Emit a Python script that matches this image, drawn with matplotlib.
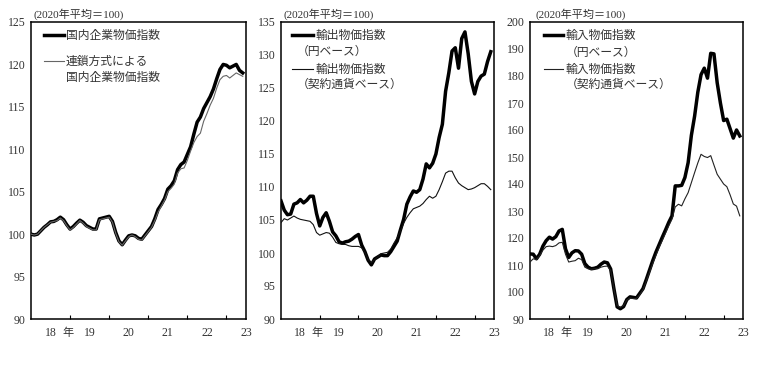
import numpy as np
import matplotlib
matplotlib.use('Agg')
import matplotlib.pyplot as plt

plt.rcParams['font.family'] = ['Liberation Serif', 'Noto Sans CJK JP']

# monthly data, Jan 2018 - Jun 2023 (2020 average = 100)
year_labels = ['18', '19', '20', '21', '22', '23']

domestic = [100.0, 99.9, 100.0, 100.4, 100.8, 101.1, 101.45, 101.5, 101.7, 102.0,
            101.7, 101.1, 100.6, 100.9, 101.3, 101.65, 101.4, 101.0, 100.8, 100.6,
            100.6, 101.8, 101.9, 102.0, 102.1, 101.5, 100.2, 99.2, 98.75, 99.3,
            99.8, 99.9, 99.8, 99.5, 99.4, 99.9, 100.4, 100.9, 101.8, 102.9,
            103.5, 104.2, 105.3, 105.7, 106.3, 107.6, 108.2, 108.5, 109.4, 110.3,
            111.8, 113.2, 113.8, 114.8, 115.5, 116.2, 117.1, 118.3, 119.4, 120.0,
            119.9, 119.6, 119.8, 120.0, 119.3, 119.0]
domestic_chain = [100.0, 99.9, 100.0, 100.4, 100.8, 101.1, 101.4, 101.5, 101.6, 101.9,
                  101.6, 101.0, 100.5, 100.8, 101.2, 101.6, 101.3, 100.9, 100.7, 100.5,
                  100.5, 101.7, 101.8, 101.9, 102.0, 101.4, 100.1, 99.1, 98.7, 99.2,
                  99.7, 99.9, 99.7, 99.4, 99.3, 99.8, 100.3, 100.8, 101.6, 102.6,
                  103.3, 104.0, 105.0, 105.4, 105.9, 107.2, 107.7, 107.8, 108.7, 109.8,
                  110.8, 111.5, 111.9, 113.3, 114.2, 115.2, 116.0, 117.2, 118.2, 118.6,
                  118.7, 118.4, 118.7, 119.0, 118.8, 118.6]

export_yen = [107.9, 106.5, 105.8, 105.9, 107.4, 107.6, 108.1, 107.6, 108.0, 108.6,
              108.6, 106.0, 104.1, 105.4, 106.1, 104.8, 103.2, 102.6, 101.7, 101.5,
              101.7, 101.8, 102.1, 102.5, 102.8, 101.2, 100.2, 98.9, 98.2, 99.1,
              99.4, 99.7, 99.6, 99.6, 100.2, 101.0, 101.8, 103.5, 105.1, 107.4,
              108.5, 109.4, 109.2, 109.6, 111.2, 113.5, 112.9, 113.6, 115.0, 117.5,
              119.5, 124.5, 127.3, 130.6, 131.1, 128.0, 132.5, 133.5, 130.2, 126.0,
              124.1, 126.0, 126.8, 127.1, 129.0, 130.5]
export_contract = [104.6, 105.2, 105.0, 105.3, 105.6, 105.3, 105.1, 105.0, 104.9, 104.8,
                   104.3, 103.1, 102.7, 102.9, 103.1, 103.0, 102.4, 101.6, 101.4, 101.3,
                   101.3, 101.1, 101.0, 101.0, 101.0, 100.8, 100.1, 99.0, 98.5, 99.0,
                   99.4, 99.9, 100.0, 100.1, 100.6, 101.5, 102.3, 103.3, 104.5, 105.4,
                   106.1, 106.7, 106.9, 107.1, 107.5, 108.1, 108.6, 108.3, 108.6, 109.6,
                   110.8, 112.1, 112.4, 112.4, 111.4, 110.6, 110.2, 109.9, 109.6, 109.7,
                   109.9, 110.2, 110.5, 110.5, 110.1, 109.6]

import_yen = [114.1, 114.0, 112.3, 114.0, 117.0, 119.0, 120.3, 119.6, 120.5, 122.6,
              123.2, 116.0, 112.8, 114.5, 115.3, 115.2, 114.0, 110.5, 109.2, 108.6,
              108.8, 109.2, 110.3, 111.1, 110.8, 108.5, 101.2, 94.5, 93.8, 94.6,
              97.2, 98.2, 98.0, 97.8, 99.5, 101.2, 104.5, 108.0, 111.5, 114.7,
              117.5, 120.3, 123.0, 125.8, 128.2, 139.3, 139.3, 139.5, 142.4, 147.9,
              158.0, 165.1, 174.0, 180.5, 182.9, 179.2, 188.4, 188.2, 177.5, 170.0,
              163.5, 164.0, 160.5, 157.0, 160.0, 157.8]
import_contract = [111.1, 112.3, 112.0, 113.5, 115.5, 116.8, 117.0, 116.8, 117.2, 118.2,
                   118.4, 114.0, 111.1, 111.4, 111.6, 112.5, 112.0, 109.2, 108.6, 108.4,
                   108.6, 108.6, 109.2, 109.5, 109.6, 108.0, 101.2, 95.0, 94.3, 95.0,
                   97.0, 97.8, 97.6, 97.6, 99.0, 100.8, 104.0, 107.2, 110.5, 113.5,
                   116.5, 119.1, 121.8, 124.5, 127.0, 131.5, 132.5, 131.9, 134.5, 136.8,
                   140.5, 144.2, 147.8, 151.0, 150.2, 149.8, 150.5, 147.0, 143.6, 141.8,
                   140.0, 139.0, 136.0, 132.6, 131.8, 128.2]

W, H = 758, 365
TOP, BOTTOM = 22, 319

# (pixel left, pixel width, ylim, ystep, thick, thin, thin colour, header x, legend)
# legend rows: (pixel y, key: 'thick'/'thin'/None, text, pixel text x)
panels = [
    (31, 215, (90, 125), 5, domestic, domestic_chain, '#666666', 33,
     (44, 64),
     [(35, 'thick', '国内企業物価指数', 66),
      (61, 'thin', '連鎖方式による', 66),
      (77, None, '国内企業物価指数', 66)]),
    (281, 213, (90, 135), 5, export_yen, export_contract, '#111111', 283,
     (292, 313),
     [(35, 'thick', '輸出物価指数', 315),
      (51, None, '（円ベース）', 297),
      (69, 'thin', '輸出物価指数', 315),
      (84, None, '（契約通貨ベース）', 297)]),
    (530, 213, (90, 200), 10, import_yen, import_contract, '#222222', 535,
     (544, 563),
     [(35, 'thick', '輸入物価指数', 566),
      (52, None, '（円ベース）', 566),
      (69, 'thin', '輸入物価指数', 566),
      (84, None, '（契約通貨ベース）', 566)]),
]

fig = plt.figure(figsize=(W / 100, H / 100), dpi=100)

for left, width, ylim, ystep, thick, thin, thin_color, head_x, key_x, rows in panels:
    ax = fig.add_axes([left / W, 1 - BOTTOM / H, width / W, (BOTTOM - TOP) / H])

    months = np.arange(len(thick))
    ax.plot(np.arange(len(thin)), thin, color=thin_color, lw=0.8, zorder=3)
    ax.plot(months, thick, color='black', lw=2.5, zorder=2,
            solid_joinstyle='round')

    ax.set_xlim(0, 66)
    ax.set_ylim(*ylim)
    ax.set_yticks(np.arange(ylim[0], ylim[1] + 1, ystep))
    ax.set_xticks(np.arange(12, 61, 12))
    ax.set_xticklabels([])
    ax.set_xticks(np.arange(6, 67, 12), minor=True)
    ax.set_xticklabels(year_labels, minor=True)
    ax.tick_params(axis='x', which='major', direction='in', length=3, width=0.8)
    ax.tick_params(axis='x', which='minor', length=0, pad=6, labelsize=8.5,
                   labelcolor='#333333')
    ax.tick_params(axis='y', length=0, pad=4, labelsize=8.5, labelcolor='#333333')
    for s in ax.spines.values():
        s.set_linewidth(1.1)

    ax.text(11.3, -14 / (BOTTOM - TOP), '年', transform=ax.get_xaxis_transform(),
            ha='center', va='center', fontsize=8, color='#333333',
            family=['Noto Sans CJK JP'])

    def fx(px):
        return (px - left) / width

    def fy(py):
        return (BOTTOM - py) / (BOTTOM - TOP)

    ax.text(fx(head_x), fy(14), '(2020年平均＝100)', transform=ax.transAxes,
            ha='left', va='center', fontsize=8, color='#333333')

    for py, key, label, tx in rows:
        if key == 'thick':
            ax.plot([fx(key_x[0]), fx(key_x[1])], [fy(py), fy(py)], color='black',
                    lw=2.5, transform=ax.transAxes)
        elif key == 'thin':
            ax.plot([fx(key_x[0]), fx(key_x[1])], [fy(py), fy(py)], color=thin_color,
                    lw=0.8, transform=ax.transAxes)
        ax.text(fx(tx), fy(py), label, transform=ax.transAxes, ha='left',
                va='center', fontsize=8.5, color='#333333',
                family=['Noto Sans CJK JP'])

fig.savefig('out.png', dpi=100)
